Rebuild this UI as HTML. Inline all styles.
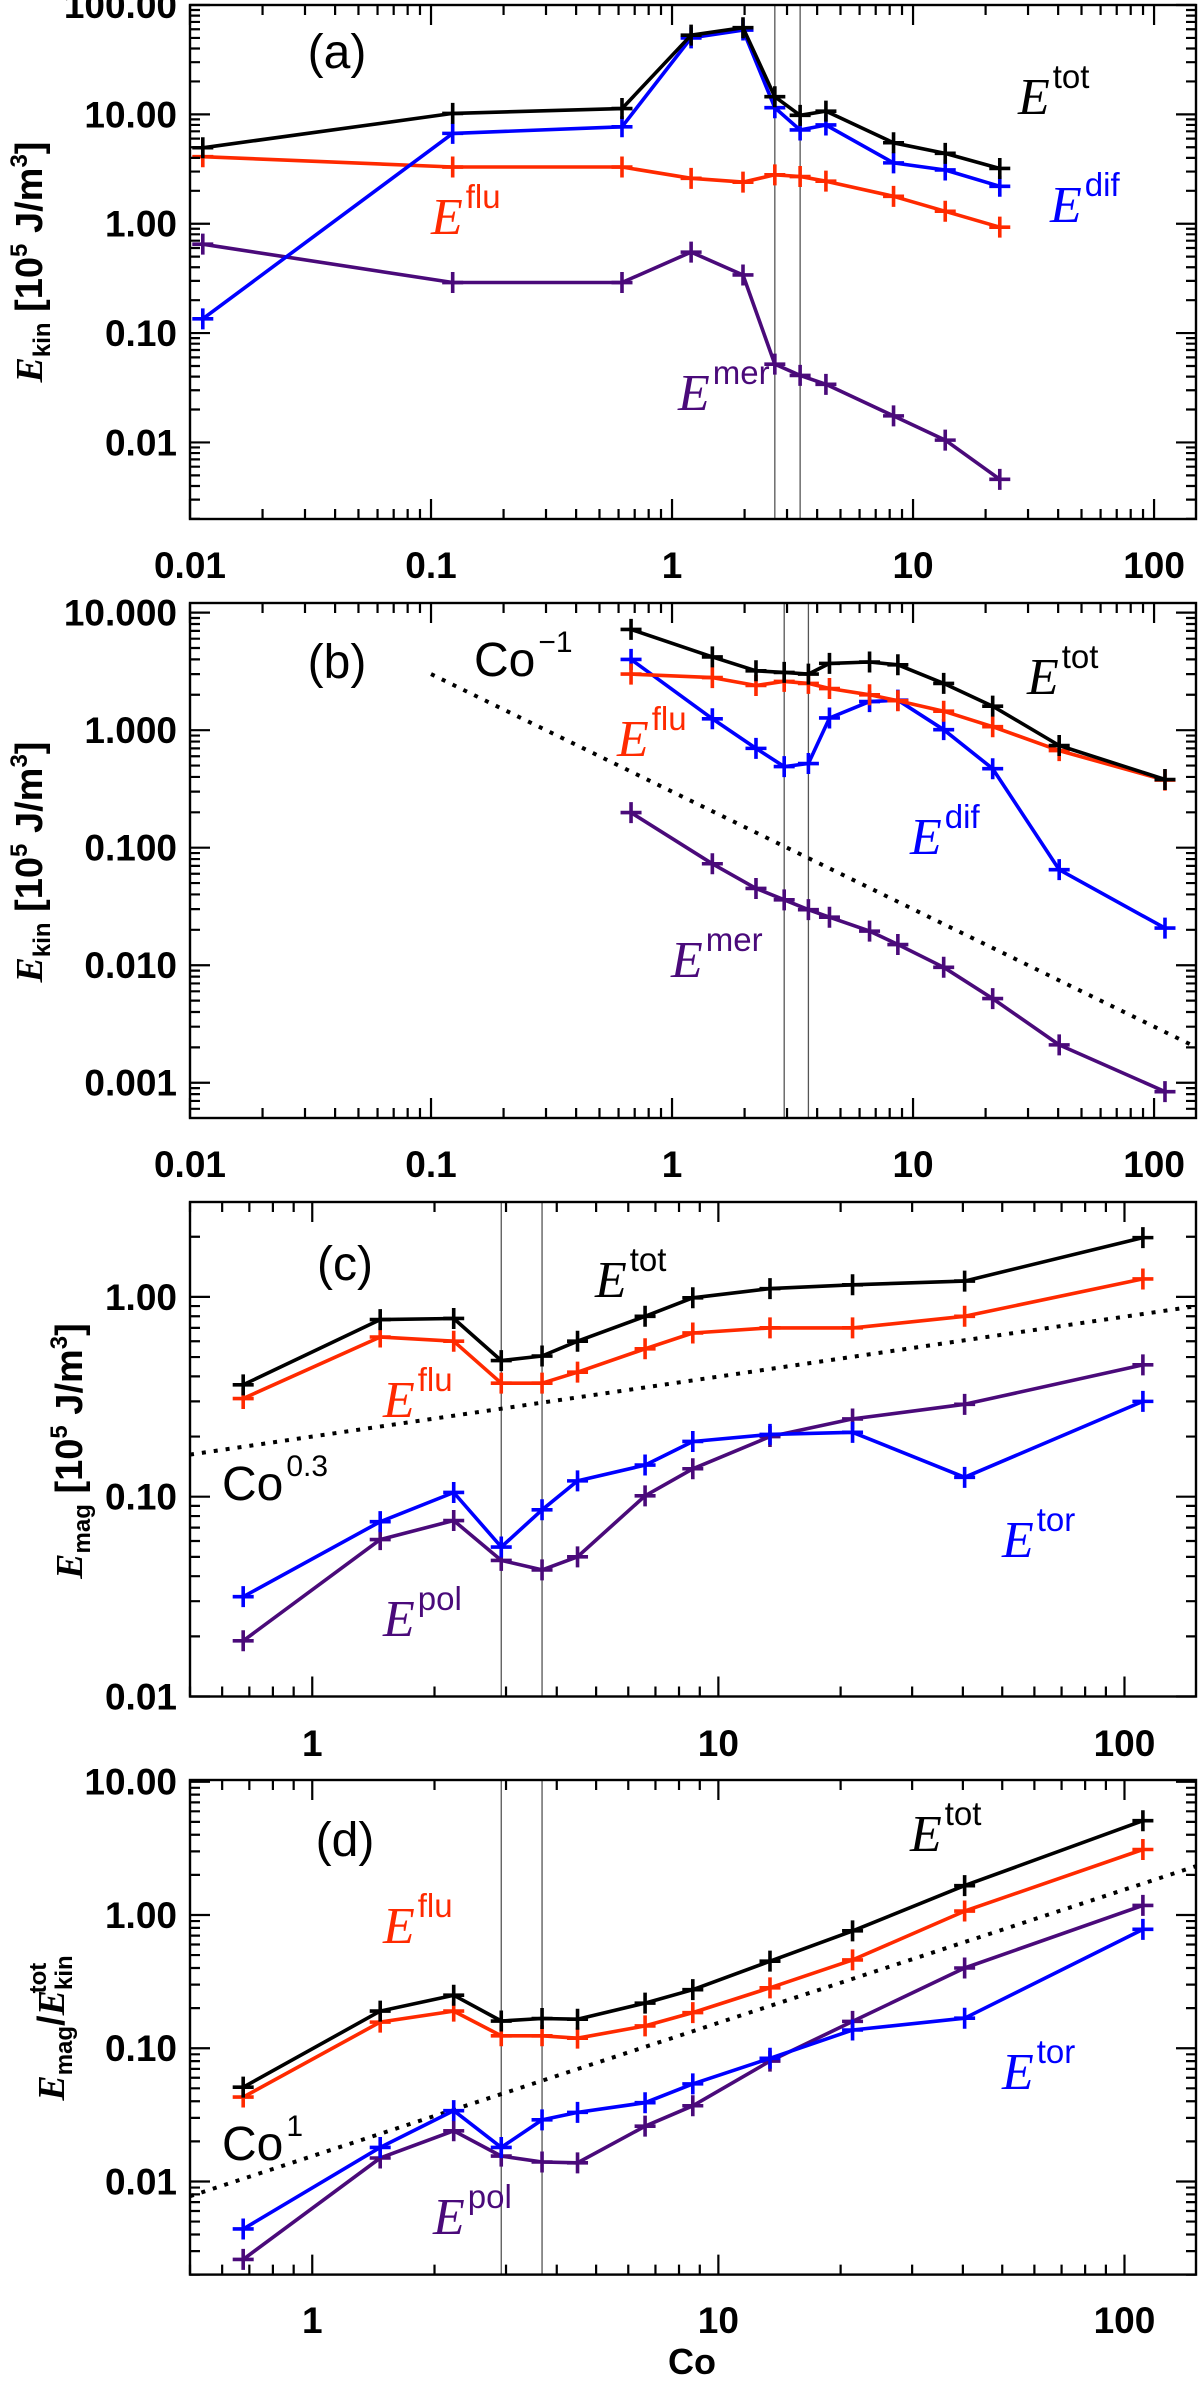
<!DOCTYPE html>
<html><head><meta charset="utf-8"><style>
html,body{margin:0;padding:0;background:#fff;}
svg{display:block;}
</style></head><body>
<svg id="fig" xmlns="http://www.w3.org/2000/svg" width="1200" height="2385" viewBox="0 0 1200 2385"></svg>
<script>
// ---------- data ----------
const coA = [0.0113,0.123,0.62,1.2,1.97,2.67,3.4,4.35,8.3,13.6,22.9];
const aTot = [4.95,10.2,11.3,53,62,14.5,9.8,10.7,5.5,4.4,3.2];
const aDif = [0.135,6.7,7.7,50,59,11.5,7.2,8.0,3.6,3.1,2.2];
const aFlu = [4.1,3.3,3.3,2.6,2.4,2.8,2.7,2.45,1.78,1.3,0.93];
const aMer = [0.65,0.29,0.29,0.55,0.34,0.052,0.041,0.034,0.0175,0.0105,0.0046];

const coB = [0.676,1.47,2.23,2.92,3.68,4.5,6.6,8.65,13.4,21.4,40.4,111];
const bTot = [7.2,4.2,3.2,3.1,3.0,3.7,3.8,3.6,2.5,1.6,0.74,0.38];
const bFlu = [3.0,2.8,2.4,2.6,2.5,2.26,2.0,1.78,1.45,1.07,0.67,0.376];
const bDif = [4.0,1.25,0.70,0.49,0.52,1.27,1.75,1.8,1.01,0.47,0.065,0.0207];
const bMer = [0.199,0.073,0.045,0.036,0.0297,0.0256,0.0195,0.015,0.0096,0.0052,0.0021,0.00084];

const cTot = [0.363,0.77,0.78,0.48,0.506,0.60,0.80,0.99,1.10,1.15,1.2,1.98];
const cFlu = [0.31,0.63,0.60,0.37,0.37,0.42,0.55,0.66,0.70,0.70,0.80,1.23];
const cTor = [0.0316,0.075,0.105,0.056,0.086,0.12,0.144,0.189,0.205,0.21,0.125,0.30];
const cPol = [0.019,0.061,0.076,0.048,0.043,0.050,0.101,0.138,0.20,0.245,0.29,0.457];

const dTot = [0.051,0.19,0.25,0.16,0.167,0.165,0.218,0.275,0.45,0.76,1.66,5.1];
const dFlu = [0.043,0.157,0.19,0.124,0.124,0.119,0.147,0.185,0.284,0.46,1.07,3.1];
const dTor = [0.0044,0.018,0.034,0.018,0.029,0.033,0.039,0.054,0.084,0.137,0.168,0.78];
const dPol = [0.0026,0.015,0.024,0.0155,0.014,0.0138,0.026,0.037,0.080,0.159,0.40,1.18];

const vlinesA = [2.67,3.4];
const vlinesB = [2.92,3.68];
const ticksY_A = ["100.00","10.00","1.00","0.10","0.01"];
const ticksY_B = ["10.000","1.000","0.100","0.010","0.001"];
const ticksY_C = ["1.00","0.10","0.01"];
const ticksY_D = ["10.00","1.00","0.10","0.01"];
const ticksX_AB = ["0.01","0.1","1","10","100"];
const ticksX_CD = ["1","10","100"];
const fitB = [0.3,-1];    // coefficient, exponent
const fitC = [0.2,0.3];
const fitD = [0.0155,1];

const COL = {tot:"#000000", flu:"#ff2a00", dif:"#0000ff", tor:"#0000ff", mer:"#4a0a7a", pol:"#4a0a7a"};
const NS = "http://www.w3.org/2000/svg";
const svg = document.getElementById('fig');

function el(tag, attrs, parent){
  const e = document.createElementNS(NS, tag);
  for (const k in attrs) e.setAttribute(k, attrs[k]);
  (parent||svg).appendChild(e);
  return e;
}

function panel(p){
  const g = el('g', {});
  
  
  const lx0 = Math.log10(p.xmin), lx1 = Math.log10(p.xmax);
  const ly0 = Math.log10(p.ymin), ly1 = Math.log10(p.ymax);
  const X = v => p.L + (Math.log10(v) - lx0) / (lx1 - lx0) * (p.R - p.L);
  const Y = v => p.B - (Math.log10(v) - ly0) / (ly1 - ly0) * (p.B - p.T);
  p.vlines.forEach(v => {
    const l = el('line', {x1:X(v), x2:X(v), y1:p.T, y2:p.B, stroke:'#555', 'stroke-width':1.3}, g);
    
    
  });
  if (p.fit){
    const f = v => p.fit[0]*Math.pow(v, p.fit[1]);
    const xs = p.fitFrom || p.xmin;
    const fl = el('line', {x1:X(xs), y1:Y(f(xs)), x2:X(p.xmax), y2:Y(f(p.xmax)), stroke:'#000', 'stroke-width':4, 'stroke-dasharray':'4 8'}, g);
    
    
  }
  p.series.forEach(s => {
    const sg = el('g', {}, g);
    
    
    const pts = s.y.map((v,i) => X(p.x[i]).toFixed(1) + ',' + Y(v).toFixed(1)).join(' ');
    el('polyline', {points:pts, fill:'none', stroke:COL[s.name], 'stroke-width':3.6, 'stroke-linejoin':'round'}, sg);
    s.y.forEach((v,i) => {
      const cx = X(p.x[i]), cy = Y(v), h = 10.5;
      const m = el('path', {d:`M${cx-h},${cy}H${cx+h}M${cx},${cy-h}V${cy+h}`, stroke:COL[s.name], 'stroke-width':3.6}, sg);
      
      
    });
  });
  const fr = el('rect', {x:p.L, y:p.T, width:p.R-p.L, height:p.B-p.T, fill:'none', stroke:'#000', 'stroke-width':2.4}, g);
  
  
  let path = '';
  for (let d = Math.floor(lx0); d <= Math.ceil(lx1); d++){
    for (let m = 1; m < 10; m++){
      const v = m*Math.pow(10,d);
      if (v < p.xmin*0.999 || v > p.xmax*1.001) continue;
      const x = X(v), len = m===1 ? 20 : 10;
      path += `M${x},${p.B}V${p.B-len}M${x},${p.T}V${p.T+len}`;
    }
  }
  for (let d = Math.floor(ly0); d <= Math.ceil(ly1); d++){
    for (let m = 1; m < 10; m++){
      const v = m*Math.pow(10,d);
      if (v < p.ymin*0.999 || v > p.ymax*1.001) continue;
      const y = Y(v), len = m===1 ? 20 : 10;
      path += `M${p.L},${y}H${p.L+len}M${p.R},${y}H${p.R-len}`;
    }
  }
  const tk = el('path', {d:path, stroke:'#000', 'stroke-width':2.2, fill:'none'}, g);
  
  
  const ytop = Math.floor(ly1 + 1e-6);
  p.yt.forEach((lab,i) => {
    const v = Math.pow(10, ytop - i);
    const t = el('text', {x:177, y:Y(v)+13, 'text-anchor':'end', 'font-family':'Liberation Sans, sans-serif', 'font-weight':'bold', 'font-size':37}, g);
    t.textContent = lab;
    
    
  });
  const xbot = Math.ceil(lx0 - 1e-6);
  p.xt.forEach((lab,i) => {
    const v = Math.pow(10, xbot + i);
    const t = el('text', {x:X(v), y:p.xlabY, 'text-anchor':'middle', 'font-family':'Liberation Sans, sans-serif', 'font-weight':'bold', 'font-size':37}, g);
    t.textContent = lab;
    
    
  });
  const pl = el('text', {x:p.letter[0], y:p.letter[1]+16, 'text-anchor':'middle', 'font-family':'Liberation Sans, sans-serif', 'font-size':48}, g);
  pl.textContent = '(' + p.id + ')';
  
  
  p.labels.forEach(L => {
    const t = el('text', {x:L[1], y:L[2], fill:COL[L[0]], 'font-size':52}, g);
    
    
    const e = el('tspan', {'font-family':'Liberation Serif, serif', 'font-style':'italic'}, t);
    e.textContent = 'E';
    const s = el('tspan', {'font-family':'Liberation Sans, sans-serif', 'font-size':33, dy:-26, dx:3}, t);
    s.textContent = L[0];
  });
  if (p.coLab){
    const t = el('text', {x:p.coLab[0], y:p.coLab[1], 'font-family':'Liberation Sans, sans-serif', 'font-size':48}, g);
    
    
    const a = el('tspan', {}, t); a.textContent = 'Co';
    const b = el('tspan', {'font-size':30, dy:-24, dx:3}, t); b.textContent = p.coLab[2];
  }
  const yt = el('text', {transform:`translate(${p.ytitle[0]},${p.ytitle[1]}) rotate(-90)`, 'text-anchor':'middle', 'font-family':'Liberation Sans, sans-serif', 'font-weight':'bold', 'font-size':38}, g);
  
  
  const e1 = el('tspan', {'font-family':'Liberation Serif, serif', 'font-style':'italic'}, yt); e1.textContent = 'E';
  const e2 = el('tspan', {'font-size':24, dy:8}, yt); e2.textContent = p.ysub;
  if (p.ratio){
    const e3 = el('tspan', {dy:-8}, yt); e3.textContent = '/';
    const e4 = el('tspan', {'font-family':'Liberation Serif, serif', 'font-style':'italic'}, yt); e4.textContent = 'E';
    const e5 = el('tspan', {'font-size':24, dy:8}, yt); e5.textContent = 'kin';
    const e6 = el('tspan', {'font-size':24, dx:-38, dy:-26}, yt); e6.textContent = 'tot';
  } else {
    const e3 = el('tspan', {dy:-8}, yt); e3.textContent = ' [10';
    const e4 = el('tspan', {'font-size':24, dy:-15}, yt); e4.textContent = '5';
    const e5 = el('tspan', {dy:15}, yt); e5.textContent = ' J/m';
    const e6 = el('tspan', {'font-size':24, dy:-15}, yt); e6.textContent = '3';
    const e7 = el('tspan', {dy:15}, yt); e7.textContent = ']';
  }
}

panel({id:'a', L:190, R:1196, T:5, B:519, xmin:0.01, xmax:Math.pow(10,2.174), ymin:Math.pow(10,-2.70), ymax:100,
  x:coA, series:[{name:'mer',y:aMer},{name:'flu',y:aFlu},{name:'dif',y:aDif},{name:'tot',y:aTot}],
  vlines:vlinesA, yt:ticksY_A, xt:ticksX_AB, xlabY:578, letter:[337,52],
  labels:[['tot',1018,114],['dif',1050,222],['flu',431,234],['mer',678,410]],
  ytitle:[42,262], ysub:'kin'});

panel({id:'b', L:190, R:1196, T:603, B:1118, xmin:0.01, xmax:Math.pow(10,2.174), ymin:Math.pow(10,-3.30), ymax:Math.pow(10,1.082),
  x:coB, series:[{name:'mer',y:bMer},{name:'dif',y:bDif},{name:'flu',y:bFlu},{name:'tot',y:bTot}],
  vlines:vlinesB, yt:ticksY_B, xt:ticksX_AB, xlabY:1177, letter:[337,662],
  fit:fitB, fitFrom:0.1, coLab:[474,676,'−1'],
  labels:[['tot',1027,694],['flu',617,756],['dif',910,854],['mer',671,977]],
  ytitle:[42,862], ysub:'kin'});

panel({id:'c', L:190, R:1196, T:1202, B:1696.5, xmin:0.5, xmax:150, ymin:0.01, ymax:Math.pow(10,0.475),
  x:coB, series:[{name:'pol',y:cPol},{name:'tor',y:cTor},{name:'flu',y:cFlu},{name:'tot',y:cTot}],
  vlines:vlinesB, yt:ticksY_C, xt:ticksX_CD, xlabY:1756, letter:[345,1264],
  fit:fitC, coLab:[222,1500,'0.3'],
  labels:[['tot',595,1297],['flu',383,1417],['pol',383,1636],['tor',1002,1557]],
  ytitle:[82,1451], ysub:'mag'});

panel({id:'d', L:190, R:1196, T:1780, B:2274.6, xmin:0.5, xmax:150, ymin:Math.pow(10,-2.699), ymax:Math.pow(10,1.013),
  x:coB, series:[{name:'pol',y:dPol},{name:'tor',y:dTor},{name:'flu',y:dFlu},{name:'tot',y:dTot}],
  vlines:vlinesB, yt:ticksY_D, xt:ticksX_CD, xlabY:2333, letter:[345,1840],
  fit:fitD, coLab:[222,2160,'1'],
  labels:[['tot',910,1851],['flu',383,1943],['pol',433,2234],['tor',1002,2089]],
  ytitle:[64,2028], ysub:'mag', ratio:true});

const xt = el('text', {x:692, y:2374, 'text-anchor':'middle', 'font-family':'Liberation Sans, sans-serif', 'font-weight':'bold', 'font-size':36});
xt.textContent = 'Co';


</script>
</body></html>
